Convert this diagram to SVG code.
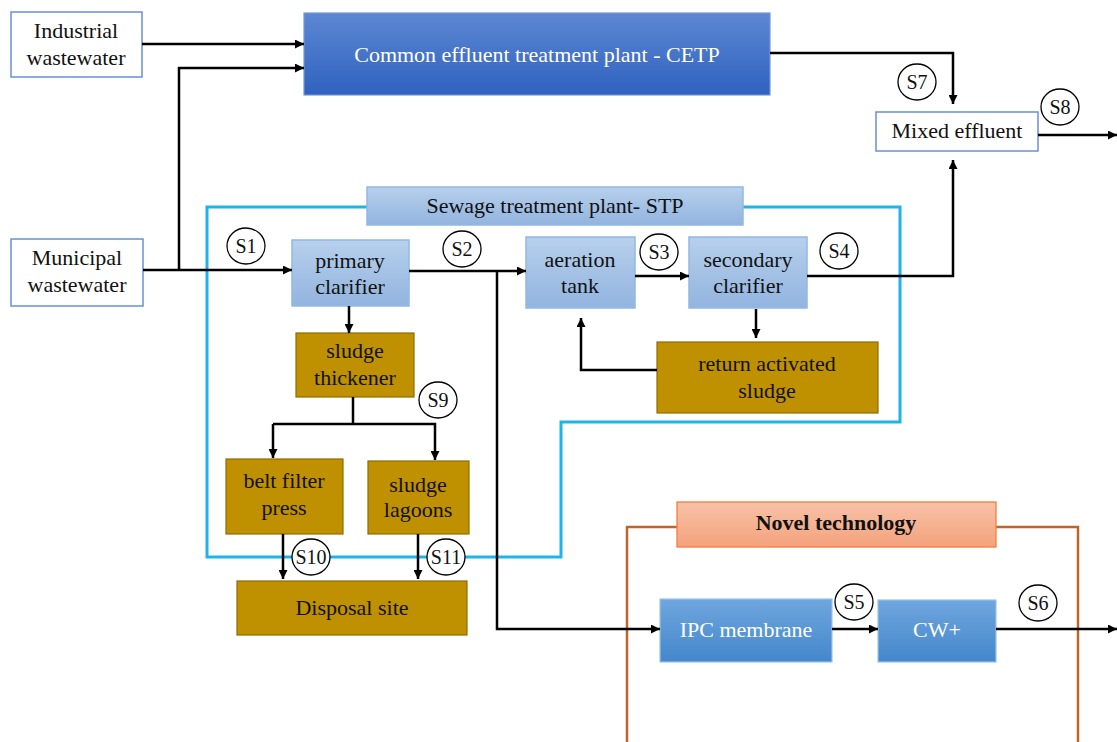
<svg xmlns="http://www.w3.org/2000/svg" width="1117" height="742" viewBox="0 0 1117 742" font-family="'Liberation Serif', Tinos, 'Times New Roman', Times, 'DejaVu Serif', serif">
<defs>
<linearGradient id="gCetp" x1="0" y1="0" x2="0" y2="1"><stop offset="0" stop-color="#5c87d3"/><stop offset="1" stop-color="#2f62bf"/></linearGradient>
<linearGradient id="gLight" x1="0" y1="0" x2="0" y2="1"><stop offset="0" stop-color="#b7d0ec"/><stop offset="1" stop-color="#92b4df"/></linearGradient>
<linearGradient id="gMid" x1="0" y1="0" x2="0" y2="1"><stop offset="0" stop-color="#6fa6de"/><stop offset="1" stop-color="#4487cb"/></linearGradient>
<linearGradient id="gOrange" x1="0" y1="0" x2="0" y2="1"><stop offset="0" stop-color="#f8c2a8"/><stop offset="1" stop-color="#f4a27c"/></linearGradient>
<marker id="arr" viewBox="0 0 10 10" refX="10" refY="5" markerWidth="9" markerHeight="9" markerUnits="userSpaceOnUse" orient="auto"><path d="M0,0 L10,5 L0,10 z" fill="#000"/></marker>
<style>
text{font-family:'Liberation Serif', Tinos, 'Times New Roman', Times, 'DejaVu Serif', serif;font-size:22px;text-anchor:middle;fill:#111}
.white{fill:#fff}
.bold{font-weight:bold}
.plain{fill:#fff;stroke:#6a90d6;stroke-width:1.5}
.light{fill:url(#gLight);stroke:#93b8e4;stroke-width:1.5}
.gold{fill:#bf9000;stroke:#8f6d00;stroke-width:1.2}
.mid{fill:url(#gMid);stroke:#9cc3ea;stroke-width:1.2}
.conn path{fill:none;stroke:#000;stroke-width:2.5}
.arrow{marker-end:url(#arr)}
.lbl ellipse{fill:#fff;stroke:#000;stroke-width:1.3}
.lbl text{font-size:20px}
</style>
</defs>
<rect width="1117" height="742" fill="#fff"/>

<g id="outlines">
<path d="M367,207 H207 V557 H561 V422 H900 V207 H743" fill="none" stroke="#1fb3ea" stroke-width="3"/>
<path d="M627,742 V527 H1078 V742" fill="none" stroke="#c0652a" stroke-width="2.5"/>
</g>

<g id="industrial"><rect class="plain" x="11" y="12" width="131" height="65"/><text x="76" y="38">Industrial</text><text x="76" y="65">wastewater</text></g>
<g id="municipal"><rect class="plain" x="11" y="239" width="132" height="67"/><text x="77" y="265">Municipal</text><text x="77" y="292">wastewater</text></g>
<g id="cetp"><rect x="304" y="13" width="466" height="82" fill="url(#gCetp)" stroke="#7397d8" stroke-width="1.2"/><text class="white" x="537" y="62">Common effluent treatment plant - CETP</text></g>
<g id="mixed"><rect class="plain" x="876" y="112" width="162" height="39"/><text x="957" y="138">Mixed effluent</text></g>
<g id="stp-label"><rect class="light" x="367" y="187" width="376" height="38"/><text x="555" y="213">Sewage treatment plant- STP</text></g>
<g id="primary"><rect class="light" x="292" y="240" width="117" height="66"/><text x="350" y="268">primary</text><text x="350" y="294">clarifier</text></g>
<g id="aeration"><rect class="light" x="526" y="237" width="109" height="71"/><text x="580" y="267">aeration</text><text x="580" y="293">tank</text></g>
<g id="secondary"><rect class="light" x="689" y="237" width="118" height="71"/><text x="748" y="267">secondary</text><text x="748" y="293">clarifier</text></g>
<g id="ras"><rect class="gold" x="657" y="342" width="221" height="71"/><text x="767" y="371">return activated</text><text x="767" y="398">sludge</text></g>
<g id="thickener"><rect class="gold" x="296" y="333" width="118" height="64"/><text x="355" y="358">sludge</text><text x="355" y="385">thickener</text></g>
<g id="belt"><rect class="gold" x="226" y="459" width="117" height="75"/><text x="284" y="488">belt filter</text><text x="284" y="515">press</text></g>
<g id="lagoons"><rect class="gold" x="368" y="461" width="101" height="73"/><text x="418" y="492">sludge</text><text x="418" y="517">lagoons</text></g>
<g id="disposal"><rect class="gold" x="237" y="581" width="230" height="54"/><text x="352" y="615">Disposal site</text></g>
<g id="novel-label"><rect x="677" y="502" width="319" height="45" fill="url(#gOrange)" stroke="#ee8140" stroke-width="1.3"/><text class="bold" x="836" y="530">Novel technology</text></g>
<g id="ipc"><rect class="mid" x="660" y="599" width="172" height="63"/><text class="white" x="746" y="637">IPC membrane</text></g>
<g id="cw"><rect class="mid" x="878" y="600" width="118" height="62"/><text class="white" x="937" y="637">CW+</text></g>

<g id="connectors" class="conn">
<path class="arrow" d="M142,44 H304"/>
<path class="arrow" d="M179,270 V68 H304"/>
<path class="arrow" d="M143,270 H292"/>
<path class="arrow" d="M770,53 H953 V104"/>
<path class="arrow" d="M1038,135 H1117"/>
<path class="arrow" d="M409,271 H526"/>
<path class="arrow" d="M497,271 V629 H660"/>
<path class="arrow" d="M635,276 H689"/>
<path class="arrow" d="M807,276 H953 V160"/>
<path class="arrow" d="M756,309 V338"/>
<path class="arrow" d="M657,370 H581 V318"/>
<path class="arrow" d="M349,306 V333"/>
<path d="M353,397 V425"/>
<path class="arrow" d="M273,424 H435 V460"/>
<path class="arrow" d="M273,424 V458"/>
<path class="arrow" d="M283,534 V579"/>
<path class="arrow" d="M418,534 V579"/>
<path class="arrow" d="M832,629 H878"/>
<path class="arrow" d="M996,629 H1117"/>
</g>

<g id="stream-labels" class="lbl">
<g id="s1"><ellipse cx="246" cy="246" rx="19" ry="18"/><text x="246" y="253">S1</text></g>
<g id="s2"><ellipse cx="462" cy="249" rx="19" ry="18"/><text x="462" y="256">S2</text></g>
<g id="s3"><ellipse cx="659" cy="252" rx="19" ry="18"/><text x="659" y="259">S3</text></g>
<g id="s4"><ellipse cx="839" cy="251" rx="19" ry="18"/><text x="839" y="258">S4</text></g>
<g id="s5"><ellipse cx="854" cy="602" rx="19" ry="18"/><text x="854" y="609">S5</text></g>
<g id="s6"><ellipse cx="1038" cy="603" rx="19" ry="18"/><text x="1038" y="610">S6</text></g>
<g id="s7"><ellipse cx="917" cy="82" rx="19" ry="18"/><text x="917" y="89">S7</text></g>
<g id="s8"><ellipse cx="1060" cy="107" rx="19" ry="18"/><text x="1060" y="114">S8</text></g>
<g id="s9"><ellipse cx="438" cy="400" rx="19" ry="18"/><text x="438" y="407">S9</text></g>
<g id="s10"><ellipse cx="311" cy="557" rx="19" ry="18"/><text x="311" y="564">S10</text></g>
<g id="s11"><ellipse cx="446" cy="557" rx="19" ry="18"/><text x="446" y="564">S11</text></g>
</g>
</svg>
